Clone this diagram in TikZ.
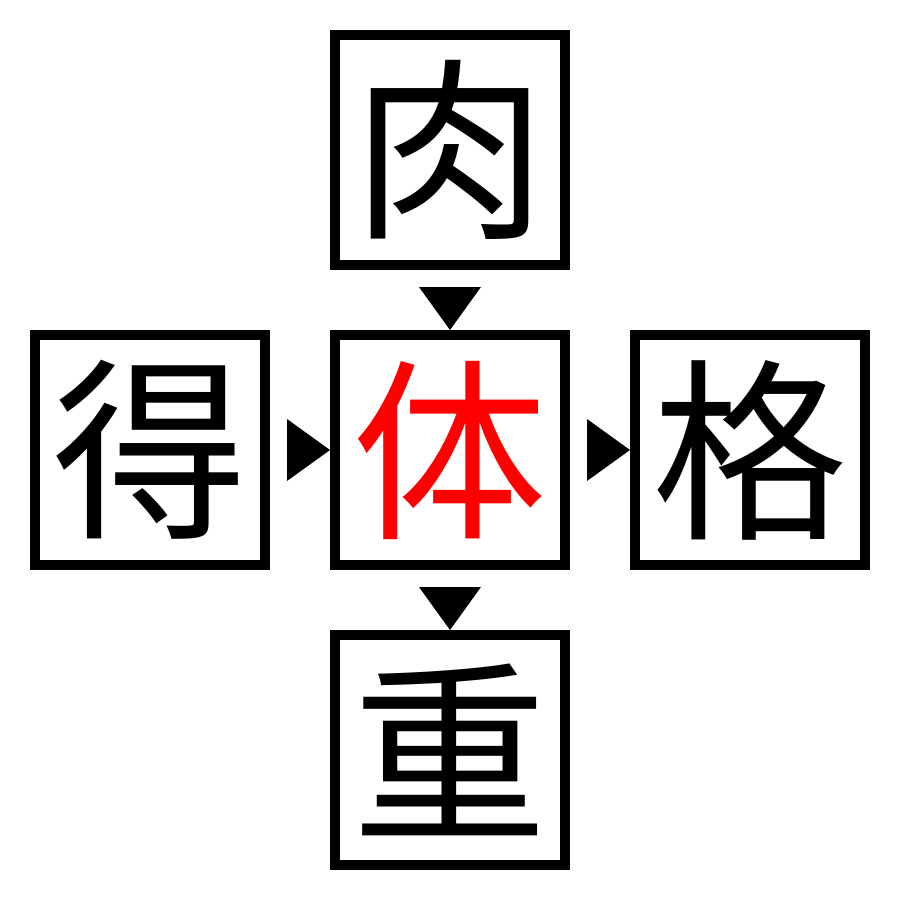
\documentclass[tikz,border=0pt]{standalone}
\usepackage{fontspec}
\newfontfamily\cjk{Noto Sans CJK JP}
\usetikzlibrary{calc}
\tikzset{
  charbox/.style={draw=black, line width=10pt, minimum size=230pt, inner sep=0pt, font=\cjk\fontsize{195pt}{195pt}\selectfont, text=black},
  hot/.style={text=red},
}
\begin{document}
\begin{tikzpicture}[x=1pt,y=-1pt]
\useasboundingbox (0,0) rectangle (900,900);
\node[charbox] (top) at (450,150) {肉};
\node[charbox] (left) at (150,450) {得};
\node[charbox,hot] (mid) at (450,450) {体};
\node[charbox] (right) at (750,450) {格};
\node[charbox] (bot) at (450,750) {重};
% down triangle top -> mid
\fill ($(top.south)+(-31,17)$) -- ($(top.south)+(31,17)$) -- ($(top.south)+(0,60)$) -- cycle;
% down triangle mid -> bot
\fill ($(mid.south)+(-31,17)$) -- ($(mid.south)+(31,17)$) -- ($(mid.south)+(0,60)$) -- cycle;
% right triangle left -> mid
\fill ($(left.east)+(17,-31)$) -- ($(left.east)+(17,31)$) -- ($(left.east)+(60,0)$) -- cycle;
% right triangle mid -> right
\fill ($(mid.east)+(17,-31)$) -- ($(mid.east)+(17,31)$) -- ($(mid.east)+(60,0)$) -- cycle;
\end{tikzpicture}
\end{document}
